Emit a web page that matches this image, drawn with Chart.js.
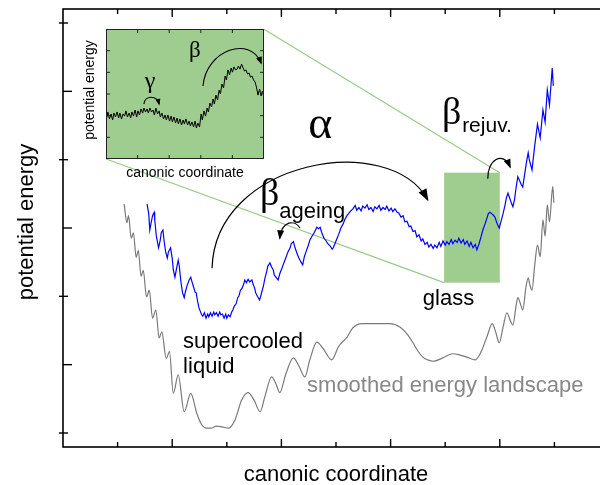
<!DOCTYPE html>
<html>
<head>
<meta charset="utf-8">
<script src="https://cdn.jsdelivr.net/npm/chart.js@4.4.1/dist/chart.umd.min.js"></script>
<style>
  html, body { margin: 0; padding: 0; background: #fff; overflow: hidden; }
  #wrap { position: relative; width: 600px; height: 485px; overflow: hidden; }
  #main { position: absolute; left: 0; top: 0; }
  #inset { position: absolute; left: 70px; top: 20px; }
</style>
</head>
<body>
<div id="wrap">
  <canvas id="main" width="620" height="485"></canvas>
  <canvas id="inset" width="200" height="170"></canvas>
</div>
<script>
// main panel, arbitrary units: 10 per tick
const blueX = [15.4,15.7,15.9,16.1,16.4,16.7,16.8,17.1,17.5,17.8,18.0,18.3,18.5,18.8,19.1,19.3,19.7,20.0,20.2,20.5,
  20.8,21.1,21.3,21.6,21.9,22.2,22.4,22.7,23.1,23.4,23.6,23.9,24.2,24.4,24.6,24.9,25.4,
  25.6,25.9,26.2,26.5,26.7,27.0,27.3,27.6,27.8,28.1,28.4,28.7,28.9,29.2,29.5,29.8,30.0,30.3,30.6,
  30.9,31.1,31.4,31.7,32.0,32.2,32.5,32.8,33.1,33.3,33.6,33.9,34.2,34.6,34.8,35.1,35.3,35.6,36.0,36.2,
  36.4,36.7,37.0,37.3,37.5,37.9,38.2,38.5,38.7,39.0,39.4,39.7,40.1,40.5,40.8,41.2,41.6,41.8,42.2,42.5,
  42.9,43.2,43.6,43.9,44.2,44.5,44.9,45.2,45.6,46.0,46.5,46.8,47.1,47.4,47.8,48.2,48.5,48.9,49.3,49.5,
  49.8,50.2,50.5,50.9,51.3,51.6,52.0,52.4,52.7,
  53.1,53.5,53.8,54.2,54.6,54.9,55.3,55.7,56.0,56.4,56.8,57.1,57.5,57.9,58.2,58.6,59.0,59.3,59.7,60.1,60.4,60.8,61.2,
  61.5,61.9,62.3,62.6,63.0,63.4,63.7,64.1,64.5,64.8,65.2,65.6,65.9,66.3,66.7,67.0,67.4,67.8,
  68.1,68.5,68.9,69.2,69.6,70.0,70.3,70.7,71.1,71.4,71.8,72.2,72.5,72.9,73.3,73.6,74.0,74.4,74.7,75.1,75.5,75.8,76.2,
  76.6,76.9,77.3,77.7,77.9,78.2,78.5,78.8,79.1,79.4,79.7,79.9,
  80.2,80.6,81.0,81.2,81.5,81.8,82.1,82.4,82.7,83.0,83.3,83.6,83.9,84.2,84.5,84.9,85.2,85.4,85.7,85.9,
  86.4,86.9,87.4,87.9,88.3,88.7,89.1,89.6,89.8];
const blueY = [33.5,32.1,29.7,30.6,31.8,32.3,31.2,28.8,27.1,28.2,29.3,29.7,28.2,26.5,25.6,26.5,27.1,25.6,23.9,22.8,
  24.1,25.3,24.4,22.1,20.5,19.8,20.6,21.5,22.4,22.8,22.2,21.4,20.6,20.5,19.5,18.3,17.3,
  17.1,17.6,16.8,17.4,17.0,17.6,17.1,17.7,17.3,17.6,17.1,17.7,17.3,17.4,16.8,17.4,16.8,17.3,17.0,
  17.7,18.0,18.6,18.9,19.8,20.0,20.9,21.2,21.8,22.4,22.0,22.5,22.1,22.4,21.8,21.2,20.5,20.0,19.5,20.0,
  20.6,21.5,22.7,23.6,24.4,24.9,24.3,23.9,23.1,22.8,22.4,23.3,24.1,25.0,25.6,26.5,27.1,27.7,28.0,27.1,
  26.2,25.6,25.0,24.6,25.8,26.5,27.4,28.2,28.8,29.3,30.1,29.9,30.1,29.3,28.5,28.1,27.7,27.4,26.9,27.1,
  27.7,28.5,29.1,30.0,30.6,31.2,31.8,32.2,32.5,
  32.8,33.3,32.6,33.0,32.5,33.2,32.9,33.4,32.7,33.0,32.4,33.1,32.8,33.3,32.6,33.0,32.7,33.2,32.5,32.9,32.4,32.8,32.3,
  32.2,31.6,31.8,30.9,31.0,30.2,30.3,29.5,29.6,28.7,29.0,28.1,28.4,27.6,27.9,27.2,27.6,27.0,
  27.5,27.1,27.9,27.3,28.1,27.5,28.0,27.6,28.3,27.7,28.2,27.9,28.5,27.8,28.3,27.6,28.1,27.3,27.9,27.1,27.6,26.8,27.7,
  28.8,29.7,30.6,31.6,32.1,32.3,32.1,31.9,31.6,30.9,30.3,30.0,
  30.9,32.1,33.5,34.4,35.1,34.4,33.7,33.1,34.2,36.0,37.5,37.0,36.4,36.0,37.6,39.7,41.0,40.0,39.1,38.5,
  42.1,45.2,43.2,47.3,45.5,50.2,48.0,53.4,50.8];

const grayX = [11.2,11.7,12.0,12.5,12.9,13.4,13.8,14.3,14.7,15.3,15.8,16.4,17.0,17.6,18.1,18.9,19.5,20.2,21.1,22.2,
  23.4,24.5,25.4,26.3,27.1,28.1,29.1,30.3,31.5,32.7,33.9,35.0,36.1,37.0,38.2,39.0,39.7,40.8,42.2,43.2,
  44.3,45.2,46.5,47.6,49.2,50.5,52.0,53.1,54.8,57.1,59.9,61.7,63.0,64.1,65.0,65.9,66.8,67.8,69.6,71.4,
  72.7,74.0,75.5,76.2,76.7,77.7,78.6,79.2,79.9,80.6,81.3,81.9,82.4,83.0,83.3,83.9,84.2,84.8,85.2,85.5,
  85.9,86.4,86.9,87.4,87.9,88.3,88.7,89.1,89.7,89.9];
const grayY = [33.5,30.8,31.8,28.5,29.3,25.7,26.7,22.9,23.8,19.9,20.9,16.8,18.0,13.9,14.8,10.9,11.9,5.8,8.5,3.1,
  5.8,2.9,1.2,0.7,0.7,1.0,0.9,0.7,1.9,4.8,5.9,4.8,3.1,5.4,8.2,7.2,5.9,8.6,11.0,9.8,
  8.2,10.7,13.3,12.4,10.7,12.7,14.0,15.4,16.0,16.0,16.0,15.5,14.5,13.2,12.0,11.1,10.7,10.5,11.0,11.6,
  11.4,11.1,10.7,11.3,12.1,14.2,16.0,14.9,13.2,15.5,17.6,16.5,15.8,18.7,19.8,18.6,18.0,21.4,22.7,21.7,
  20.9,24.6,27.5,25.8,31.2,28.8,33.4,30.9,36.1,33.7];

const xMajorTicks = [20, 40, 60, 80];
const xMinorTicks = [10, 30, 50, 70, 90];
const yMajorTicks = [0, 20, 40, 60];
const yMinorTicks = [10, 30, 50];

// inset panel
const insetX = [0.2,0.6,1.1,1.6,2.1,2.5,3.0,3.5,4.0,4.4,4.9,5.4,5.9,6.3,6.8,7.3,7.8,8.2,8.7,9.2,
  9.7,10.1,10.6,11.1,11.6,12.0,12.5,13.0,13.4,13.9,14.4,14.9,15.3,15.8,16.3,16.8,17.2,17.7,18.2,18.7,
  19.1,19.6,20.1,20.6,21.0,21.5,22.0,22.5,22.9,23.4,23.9,24.4,24.8,25.3,25.8,26.3,26.7,27.2,27.7,28.2,
  28.6,29.1,29.6,30.1,30.5,31.0,31.5,32.0,32.4,32.9,33.4,33.9,34.3,34.8,35.3,35.8,36.2,36.7,37.2,37.7,
  38.1,38.6,39.1,39.6,40.0,40.5,41.0,41.5,41.9,42.4,42.9,43.4,43.8,44.3,44.8,45.3,45.7,46.2,46.7,47.2,
  47.6,48.1,48.6,49.1,49.5,50.0];
const insetY = [18.9,21.7,18.5,20.8,18.0,21.2,19.4,21.7,18.9,21.2,18.5,20.8,19.8,22.2,19.4,21.2,18.9,21.7,19.8,22.6,
  19.4,22.2,20.3,23.1,21.2,23.5,21.7,23.1,21.2,23.5,21.7,22.6,20.3,23.5,20.8,22.2,19.4,21.2,18.5,20.3,
  18.0,20.3,17.5,19.8,17.1,19.4,16.6,18.9,16.2,18.5,15.7,18.0,16.2,18.5,15.7,17.5,15.2,17.1,14.8,17.5,
  14.3,16.6,14.8,20.8,18.0,22.2,19.8,23.5,21.7,25.8,24.0,27.7,25.4,29.5,27.2,31.8,30.0,34.6,32.8,38.3,
  36.5,41.1,38.8,42.0,40.1,42.5,41.1,41.5,42.9,41.5,43.8,42.0,40.6,41.1,39.2,39.7,37.8,38.3,36.5,35.5,
  33.2,29.5,32.3,29.1,31.4,29.5];
const insetXTicks = [10, 20, 30, 40];
const insetYTicks = [10, 20, 30, 40, 50];

const GREEN = '#9fcd8f';
const GREEN_LINE = '#97cb85';
const SANS = '"Liberation Sans", Arial, sans-serif';
const SERIF = '"Liberation Serif", "Times New Roman", serif';

// annotations (data units of the panel they sit in)
const glassBox = [69.8, 80.0, 22.0, 38.1];   // x0, x1, y0, y1
const zoomLines = [[36.8, 59.1, 80.0, 38.1], [7.9, 40.1, 69.8, 22.0]];
const mainArcs = [
  { p: [[27.3,24.1],[27.8,40.0],[59.9,44.3],[66.8,34.1]], head: 11, half: 4.5 },
  { p: [[43.4,30.0],[42.5,31.2],[40.1,31.2],[39.7,28.5]], head: 8, half: 3.5 },
  { p: [[77.8,37.2],[77.7,40.0],[80.6,41.4],[81.9,38.9]], head: 8, half: 3.5 }
];
const mainLabels = [
  { t: 'α', x: 44.9, y: 43.2, font: '46px ' + SERIF, c: '#000' },
  { t: 'β', x: 69.4, y: 45.2, font: '38px ' + SERIF, c: '#000' },
  { t: 'rejuv.', x: 73.1, y: 44.1, font: '21px ' + SANS, c: '#000' },
  { t: 'β', x: 36.1, y: 33.4, font: '38px ' + SERIF, c: '#000' },
  { t: 'ageing', x: 39.6, y: 31.5, font: '22px ' + SANS, c: '#000' },
  { t: 'glass', x: 65.9, y: 18.7, font: '22px ' + SANS, c: '#000' },
  { t: 'supercooled', x: 22.0, y: 12.4, font: '22px ' + SANS, c: '#000' },
  { t: 'liquid', x: 22.0, y: 8.8, font: '22px ' + SANS, c: '#000' },
  { t: 'smoothed energy landscape', x: 44.7, y: 6.0, font: '22px ' + SANS, c: '#888' }
];
const insetArcs = [
  { p: [[12.0,25.4],[12.3,29.5],[16.1,29.5],[16.8,25.4]], head: 5, half: 2.5 },
  { p: [[30.7,33.7],[31.6,50.3],[45.6,57.2],[49.1,44.3]], head: 6, half: 3 }
];
const insetLabels = [
  { t: 'γ', x: 12.3, y: 32.8, font: '24px ' + SERIF, c: '#000' },
  { t: 'β', x: 26.3, y: 47.1, font: '23px ' + SERIF, c: '#000' }
];

const pts = (xs, ys) => xs.map((v, i) => ({ x: v, y: ys[i] }));

function seg(ctx, x0, y0, x1, y1) {
  ctx.beginPath(); ctx.moveTo(x0, y0); ctx.lineTo(x1, y1); ctx.stroke();
}

function arrowArc(ctx, a, X, Y) {
  const P = a.p.map(q => [X(q[0]), Y(q[1])]);
  ctx.beginPath();
  ctx.moveTo(P[0][0], P[0][1]);
  ctx.bezierCurveTo(P[1][0], P[1][1], P[2][0], P[2][1], P[3][0], P[3][1]);
  ctx.stroke();
  const dx = P[3][0] - P[2][0], dy = P[3][1] - P[2][1], L = Math.hypot(dx, dy);
  const ux = dx / L, uy = dy / L;
  const bx = P[3][0] - ux * a.head, by = P[3][1] - uy * a.head;
  ctx.beginPath();
  ctx.moveTo(P[3][0] + ux * 1.5, P[3][1] + uy * 1.5);
  ctx.lineTo(bx - uy * a.half, by + ux * a.half);
  ctx.lineTo(bx + uy * a.half, by - ux * a.half);
  ctx.closePath();
  ctx.fill();
}

function drawLabels(ctx, list, X, Y) {
  ctx.textAlign = 'left';
  ctx.textBaseline = 'alphabetic';
  list.forEach(l => {
    ctx.font = l.font;
    ctx.fillStyle = l.c;
    ctx.fillText(l.t, X(l.x), Y(l.y));
  });
}

const mainDecor = {
  id: 'mainDecor',
  beforeDatasetsDraw(chart) {
    const { ctx, scales: { x, y } } = chart;
    const X = v => x.getPixelForValue(v), Y = v => y.getPixelForValue(v);
    ctx.save();
    ctx.fillStyle = GREEN;
    ctx.fillRect(X(glassBox[0]), Y(glassBox[3]), X(glassBox[1]) - X(glassBox[0]), Y(glassBox[2]) - Y(glassBox[3]));
    ctx.strokeStyle = GREEN_LINE;
    ctx.lineWidth = 1.2;
    zoomLines.forEach(l => seg(ctx, X(l[0]), Y(l[1]), X(l[2]), Y(l[3])));
    ctx.restore();
  },
  afterDatasetsDraw(chart) {
    const { ctx, chartArea: a, scales: { x, y } } = chart;
    const X = v => x.getPixelForValue(v), Y = v => y.getPixelForValue(v);
    ctx.save();
    // frame + ticks
    ctx.strokeStyle = '#000';
    ctx.lineWidth = 1.6;
    ctx.strokeRect(a.left, a.top, a.right - a.left, a.bottom - a.top);
    ctx.lineWidth = 1.4;
    xMajorTicks.forEach(v => { seg(ctx, X(v), a.bottom, X(v), a.bottom - 8); seg(ctx, X(v), a.top, X(v), a.top + 8); });
    xMinorTicks.forEach(v => { seg(ctx, X(v), a.bottom, X(v), a.bottom - 5); seg(ctx, X(v), a.top, X(v), a.top + 5); });
    yMajorTicks.forEach(v => { seg(ctx, a.left - 4, Y(v), a.left + 5, Y(v)); seg(ctx, a.right - 5, Y(v), a.right + 4, Y(v)); });
    yMinorTicks.forEach(v => { seg(ctx, a.left, Y(v), a.left + 9, Y(v)); seg(ctx, a.right - 9, Y(v), a.right, Y(v)); });
    // arrows
    ctx.lineWidth = 1.2;
    ctx.fillStyle = '#000';
    mainArcs.forEach(arc => arrowArc(ctx, arc, X, Y));
    drawLabels(ctx, mainLabels, X, Y);
    // axis titles
    ctx.fillStyle = '#000';
    ctx.font = '22px ' + SANS;
    ctx.textAlign = 'center';
    ctx.fillText('canonic coordinate', (a.left + a.right) / 2, a.bottom + 34);
    ctx.translate(a.left - 30, (a.top + a.bottom) / 2 - 6);
    ctx.rotate(-Math.PI / 2);
    ctx.fillText('potential energy', 0, 0);
    ctx.restore();
  }
};

const insetDecor = {
  id: 'insetDecor',
  beforeDatasetsDraw(chart) {
    const { ctx, chartArea: a } = chart;
    ctx.save();
    ctx.fillStyle = GREEN;
    ctx.fillRect(a.left, a.top, a.right - a.left, a.bottom - a.top);
    ctx.restore();
  },
  afterDatasetsDraw(chart) {
    const { ctx, chartArea: a, scales: { x, y } } = chart;
    const X = v => x.getPixelForValue(v), Y = v => y.getPixelForValue(v);
    ctx.save();
    ctx.strokeStyle = '#222';
    ctx.lineWidth = 1;
    ctx.strokeRect(a.left + 0.5, a.top + 0.5, a.right - a.left - 1, a.bottom - a.top - 1);
    insetXTicks.forEach(v => { seg(ctx, X(v), a.bottom, X(v), a.bottom - 4); seg(ctx, X(v), a.top, X(v), a.top + 4); });
    insetYTicks.forEach(v => { seg(ctx, a.left, Y(v), a.left + 4, Y(v)); seg(ctx, a.right, Y(v), a.right - 4, Y(v)); });
    ctx.strokeStyle = '#000';
    ctx.fillStyle = '#000';
    ctx.lineWidth = 1.1;
    insetArcs.forEach(arc => arrowArc(ctx, arc, X, Y));
    drawLabels(ctx, insetLabels, X, Y);
    ctx.fillStyle = '#000';
    ctx.font = '14px ' + SANS;
    ctx.textAlign = 'center';
    ctx.fillText('canonic coordinate', (a.left + a.right) / 2, a.bottom + 18);
    ctx.translate(a.left - 12, (a.top + a.bottom) / 2 - 4);
    ctx.rotate(-Math.PI / 2);
    ctx.fillText('potential energy', 0, 0);
    ctx.restore();
  }
};

new Chart(document.getElementById('main'), {
  type: 'line',
  data: {
    datasets: [
      { data: pts(grayX, grayY), borderColor: '#7a7a7a', borderWidth: 1.2, pointRadius: 0,
        cubicInterpolationMode: 'monotone', fill: false },
      { data: pts(blueX, blueY), borderColor: '#0000ff', borderWidth: 1.2, pointRadius: 0,
        tension: 0, fill: false }
    ]
  },
  options: {
    responsive: false,
    animation: false,
    devicePixelRatio: 1,
    events: [],
    layout: { padding: { left: 63, top: 9, right: 11, bottom: 38 } },
    plugins: { legend: { display: false }, tooltip: { enabled: false } },
    scales: {
      x: { type: 'linear', min: 0, max: 100, display: false },
      y: { type: 'linear', min: -2.05, max: 62.05, display: false }
    }
  },
  plugins: [mainDecor]
});

new Chart(document.getElementById('inset'), {
  type: 'line',
  data: {
    datasets: [
      { data: pts(insetX, insetY), borderColor: '#000', borderWidth: 1, pointRadius: 0, tension: 0, fill: false }
    ]
  },
  options: {
    responsive: false,
    animation: false,
    devicePixelRatio: 1,
    events: [],
    layout: { padding: { left: 36, top: 9, right: 6, bottom: 31 } },
    plugins: { legend: { display: false }, tooltip: { enabled: false } },
    scales: {
      x: { type: 'linear', min: 0, max: 50, display: false },
      y: { type: 'linear', min: 0, max: 60, display: false }
    }
  },
  plugins: [insetDecor]
});
</script>
</body>
</html>
